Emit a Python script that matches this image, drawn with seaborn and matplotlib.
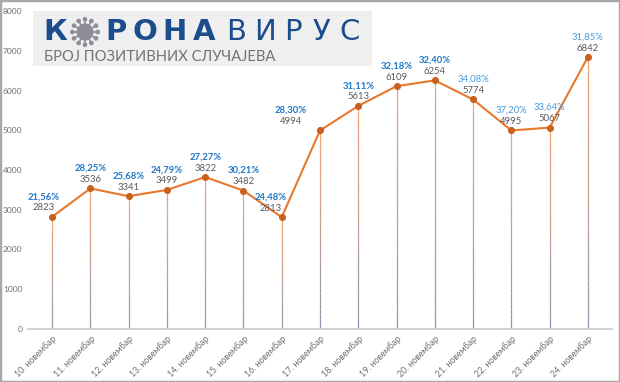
import matplotlib.pyplot as plt
import matplotlib.patches as patches
import numpy as np
import pandas as pd
import seaborn as sns
from matplotlib.collections import LineCollection
from matplotlib.colors import LinearSegmentedColormap

days = ["10. новембар", "11. новембар", "12. новембар", "13. новембар",
        "14. новембар", "15. новембар", "16. новембар", "17. новембар",
        "18. новембар", "19. новембар", "20. новембар", "21. новембар",
        "22. новембар", "23. новембар", "24. новембар"]
cases = [2823, 3536, 3341, 3499, 3822, 3482, 2813, 4994,
         5613, 6109, 6254, 5774, 4995, 5067, 6842]
percents = ["21,56%", "28,25%", "25,68%", "24,79%", "27,27%", "30,21%", "24,48%",
            "28,30%", "31,11%", "32,18%", "32,40%", "34,08%", "37,20%", "33,64%",
            "31,85%"]
y_ticks = [0, 1000, 2000, 3000, 4000, 5000, 6000, 7000, 8000]

sns.set_style("white")
plt.rcParams["font.family"] = ["Lato", "DejaVu Sans"]

df = pd.DataFrame({"x": np.arange(len(days)), "cases": cases})

fig = plt.figure(figsize=(6.2, 3.82), dpi=100)
ax = fig.add_axes([28 / 620, 1 - 329 / 382, 584 / 620, 318 / 382])

# drop lines with an orange -> slate gradient
cmap = LinearSegmentedColormap.from_list("drop", ["#8c96aa", "#f2a070"])
for xi, v in zip(df["x"], df["cases"]):
    ys = np.linspace(0, v, 40)
    segs = [[(xi, ys[i]), (xi, ys[i + 1])] for i in range(len(ys) - 1)]
    lc = LineCollection(segs, colors=cmap(np.linspace(0, 1, len(segs))),
                        linewidths=0.9, zorder=1)
    ax.add_collection(lc)

sns.lineplot(data=df, x="x", y="cases", ax=ax, color="#e8782c", linewidth=1.5,
             marker="o", markersize=4.3, markerfacecolor="#c8601e",
             markeredgecolor="#c8601e", zorder=3)

# label nudges (points) for crowded spots
dx = {0: -6, 6: -8, 7: -21}
for i, (v, p) in enumerate(zip(cases, percents)):
    off = dx.get(i, 0)
    light = i >= 11
    ax.annotate(str(v), (i, v), xytext=(off, 6.5), textcoords="offset points",
                ha="center", va="center", fontsize=6.8, color="#5a5a5a")
    ax.annotate(p, (i, v), xytext=(off, 14.5), textcoords="offset points",
                ha="center", va="center", fontsize=6.8,
                color="#4a9ad8" if light else "#1f78c8",
                fontweight="normal" if light else "bold")

ax.set_xlim(-0.63, 14.63)
ax.set_ylim(0, 8000)
ax.set_yticks(y_ticks)
ax.set_yticklabels([str(t) for t in y_ticks], fontsize=6, color="#707070")
ax.set_xticks(df["x"])
ax.set_xticklabels(days, rotation=45, ha="right", rotation_mode="anchor",
                   fontsize=6.3, color="#707070")
ax.tick_params(axis="both", length=0, pad=4)
ax.set_xlabel("")
ax.set_ylabel("")
for s in ["top", "right", "left"]:
    ax.spines[s].set_visible(False)
ax.spines["bottom"].set_color("#c8c8c8")
ax.spines["bottom"].set_linewidth(1.2)

# logo panel
fig.patches.append(patches.Rectangle((33 / 620, 1 - 66 / 382), 339 / 620, 55 / 382,
                                     transform=fig.transFigure, facecolor="#efefef",
                                     edgecolor="none", zorder=5))
blue = "#1b4d8c"
ty = 1 - 32 / 382


def letters(word, x0, x1, weight):
    slot = (x1 - x0) / len(word)
    for k, ch in enumerate(word):
        fig.text((x0 + slot * (k + 0.5)) / 620, ty, ch, fontsize=21,
                 family="DejaVu Sans", fontweight=weight, color=blue,
                 va="center", ha="center", zorder=6)


letters("К", 44, 67, "bold")
letters("РОНА", 101, 219, "bold")
letters("ВИРУС", 222, 364, "normal")
fig.text(44 / 620, 1 - 57 / 382, "БРОЈ ПОЗИТИВНИХ СЛУЧАЈЕВА", fontsize=10.6,
         color="#727272", va="center", ha="left", zorder=6)

# virus icon in place of the first О
iax = fig.add_axes([70 / 620, 1 - 47 / 382, 30 / 620, 30 / 382], zorder=7)
iax.set_xlim(-1.3, 1.3)
iax.set_ylim(-1.3, 1.3)
iax.axis("off")
iax.add_patch(patches.Circle((0, 0), 0.68, color="#8e8e98"))
for a in np.linspace(0, 2 * np.pi, 12, endpoint=False):
    iax.plot([0.6 * np.cos(a), 1.05 * np.cos(a)], [0.6 * np.sin(a), 1.05 * np.sin(a)],
             color="#8e8e98", lw=1.2)
    iax.add_patch(patches.Circle((1.1 * np.cos(a), 1.1 * np.sin(a)), 0.14,
                                 color="#8e8e98"))

# outer border
fig.patches.append(patches.Rectangle((0, 0), 1, 1, transform=fig.transFigure,
                                     facecolor="none", edgecolor="#a8a8a8",
                                     linewidth=2.5, zorder=10))

fig.savefig("out.png", dpi=100)
